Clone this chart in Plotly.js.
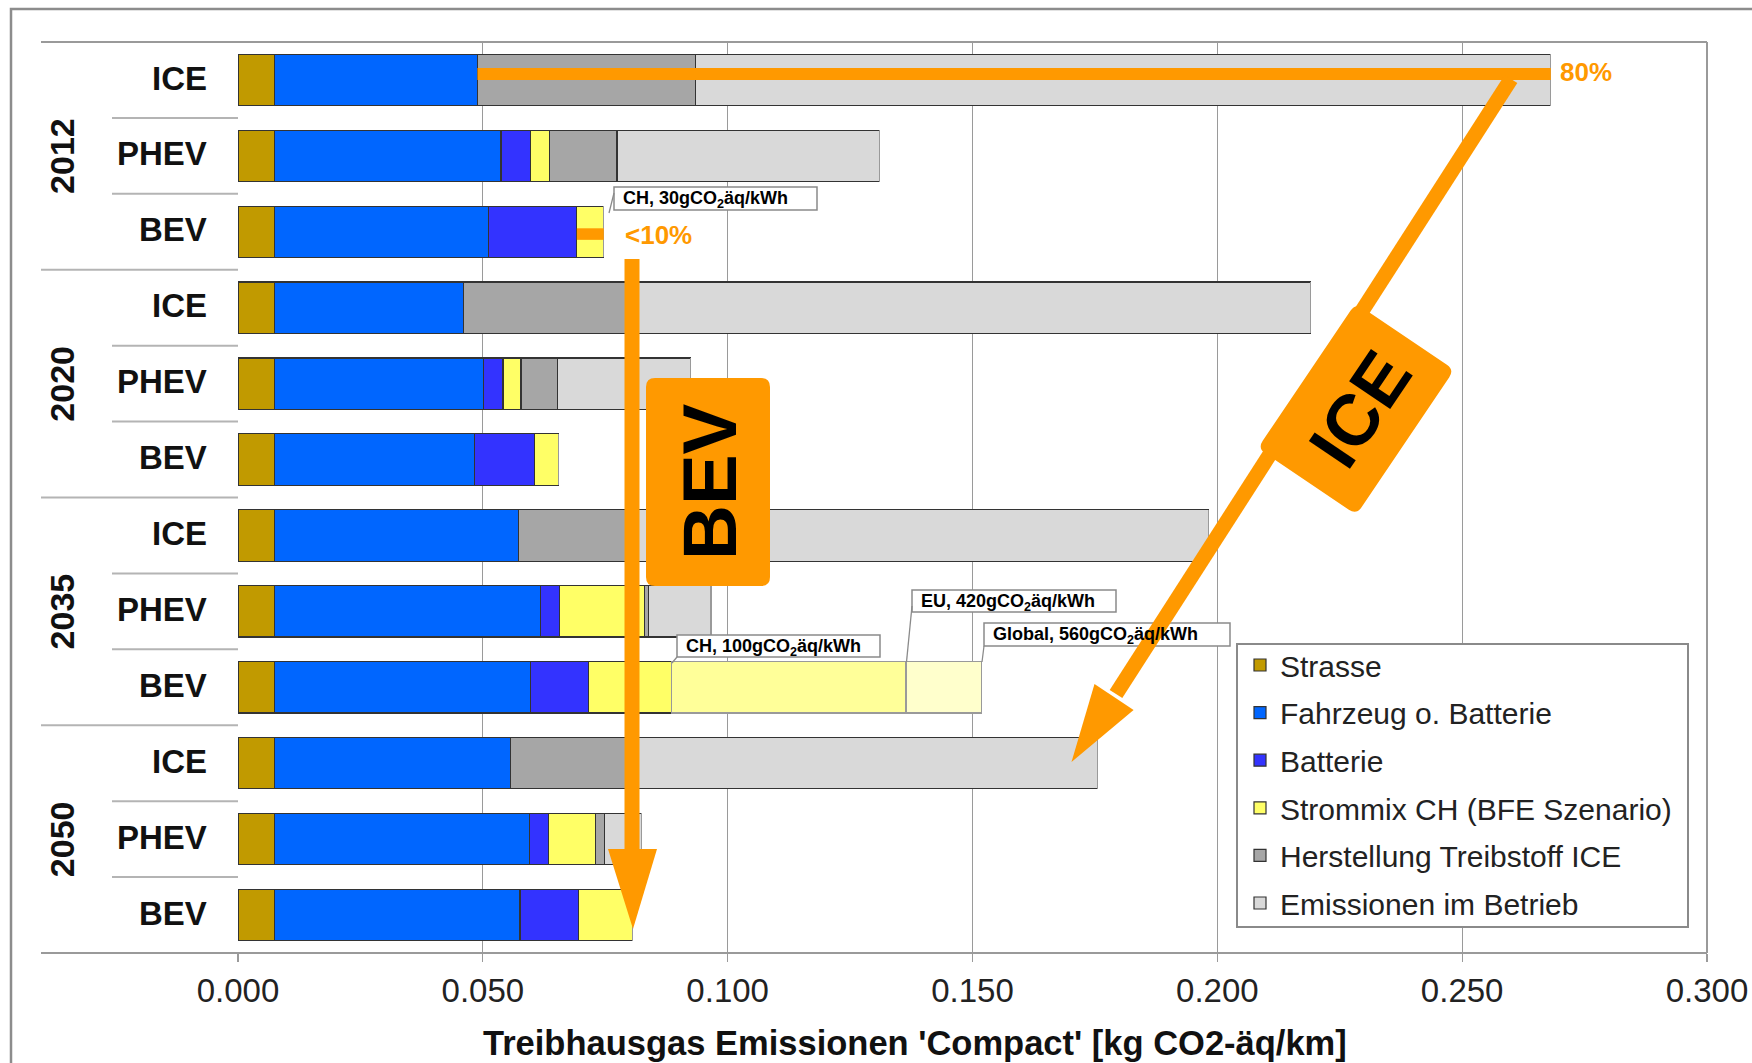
<!DOCTYPE html>
<html>
<head>
<meta charset="utf-8">
<script src="https://cdn.plot.ly/plotly-3.0.1.min.js"></script>
<style>html,body{margin:0;padding:0;background:#fff;}#chart{width:1752px;height:1063px;}</style>
</head>
<body>
<div id="chart"></div>
<script>
// ---------------- data ----------------
const years = ['2012', '2020', '2035', '2050'];
const types = ['ICE', 'PHEV', 'BEV'];
const seriesNames = ['Strasse', 'Fahrzeug o. Batterie', 'Batterie', 'Strommix CH (BFE Szenario)', 'Herstellung Treibstoff ICE', 'Emissionen im Betrieb'];
const seriesColors = ['#C19A00', '#0066FF', '#3333FF', '#FFFF66', '#A6A6A6', '#D9D9D9'];
// rows: 2012 ICE, PHEV, BEV, 2020 ICE, PHEV, BEV, 2035 ..., 2050 ...
const strasse     = [0.0075, 0.0075, 0.0075, 0.0075, 0.0075, 0.0075, 0.0075, 0.0075, 0.0075, 0.0075, 0.0075, 0.0075];
const fahrzeug    = [0.0414, 0.0462, 0.0436, 0.0386, 0.0427, 0.0408, 0.0498, 0.0543, 0.0522, 0.0481, 0.0520, 0.0501];
const batterie    = [0,      0.0061, 0.0181, 0,      0.0039, 0.0122, 0,      0.0039, 0.0119, 0,      0.0039, 0.0119];
const strommix    = [0,      0.0038, 0.0055, 0,      0.0037, 0.0049, 0,      0.0173, 0.0169, 0,      0.0096, 0.0110];
const herstellung = [0.0445, 0.0138, 0,      0.0339, 0.0075, 0,      0.0227, 0.0008, 0,      0.0244, 0.0018, 0];
const betrieb     = [0.1747, 0.0536, 0,      0.1391, 0.0271, 0,      0.1182, 0.0128, 0,      0.0956, 0.0076, 0];
// alternative electricity mixes for the 2035 BEV bar
const mixEU       = [0, 0, 0, 0, 0, 0, 0, 0, 0.0479, 0, 0, 0];
const mixGlobal   = [0, 0, 0, 0, 0, 0, 0, 0, 0.0155, 0, 0, 0];
const xTicks = [0, 0.05, 0.1, 0.15, 0.2, 0.25, 0.3];
const xTickText = ['0.000', '0.050', '0.100', '0.150', '0.200', '0.250', '0.300'];
const calloutTexts = ['CH, 30gCO<sub>2</sub>äq/kWh', 'CH, 100gCO<sub>2</sub>äq/kWh', 'EU, 420gCO<sub>2</sub>äq/kWh', 'Global, 560gCO<sub>2</sub>äq/kWh'];
const xTitle = "Treibhausgas Emissionen 'Compact' [kg CO2-äq/km]";

const rowKeys = [];
years.forEach(y => types.forEach(t => rowKeys.push(y + ' ' + t)));
const seriesValues = [strasse, fahrzeug, batterie, strommix, herstellung, betrieb];
const total = rowKeys.map((_, i) => seriesValues.reduce((s, a) => s + a[i], 0));

// ---------------- geometry helpers (pixel -> paper) ----------------
const L = 238, R = 1707, T = 42, B = 953;
const PX = px => (px - L) / (R - L);
const PY = py => (B - py) / (B - T);
const ORANGE = '#FF9900';
const FONT = 'Liberation Sans, Arial, sans-serif';

function poly(pts) {
  return 'M' + pts.map(p => PX(p[0]).toFixed(5) + ',' + PY(p[1]).toFixed(5)).join('L') + 'Z';
}
function rrect(cx, cy, w, h, ex, ey, r) {
  const dx = -ey, dy = ex;
  const P = (a, b) => [cx + a * ex + b * dx, cy + a * ey + b * dy];
  const hw = w / 2, hh = h / 2;
  const f = p => PX(p[0]).toFixed(5) + ',' + PY(p[1]).toFixed(5);
  let s = 'M' + f(P(-hw + r, -hh)) + 'L' + f(P(hw - r, -hh));
  s += 'Q' + f(P(hw, -hh)) + ' ' + f(P(hw, -hh + r));
  s += 'L' + f(P(hw, hh - r));
  s += 'Q' + f(P(hw, hh)) + ' ' + f(P(hw - r, hh));
  s += 'L' + f(P(-hw + r, hh));
  s += 'Q' + f(P(-hw, hh)) + ' ' + f(P(-hw, hh - r));
  s += 'L' + f(P(-hw, -hh + r));
  s += 'Q' + f(P(-hw, -hh)) + ' ' + f(P(-hw + r, -hh));
  return s + 'Z';
}

// ---------------- traces ----------------
const traces = seriesValues.map((vals, k) => ({
  type: 'bar', orientation: 'h', y: rowKeys, x: vals, name: seriesNames[k],
  legendgroup: seriesNames[k],
  marker: { color: seriesColors[k], line: { color: '#333333', width: 1.2 } },
  hovertemplate: '%{y}: %{x:.3f}<extra>' + seriesNames[k] + '</extra>'
}));
traces.push({ type: 'bar', orientation: 'h', y: rowKeys, x: mixEU, name: 'EU', showlegend: false,
  marker: { color: '#FFFF99', line: { color: '#9a9a9a', width: 1.2 } } });
traces.push({ type: 'bar', orientation: 'h', y: rowKeys, x: mixGlobal, name: 'Global', showlegend: false,
  marker: { color: '#FFFFCC', line: { color: '#9a9a9a', width: 1.2 } } });

// ---------------- shapes ----------------
const shapes = [];
const gray = '#9a9a9a';
// outer frame
shapes.push({ type: 'rect', xref: 'paper', yref: 'paper', x0: PX(11), x1: PX(1800), y0: PY(9), y1: PY(1100),
  line: { color: '#8c8c8c', width: 2.5 }, fillcolor: 'rgba(0,0,0,0)' });
// category dividers in the label area
for (let i = 1; i < rowKeys.length; i++) {
  const isGroup = i % types.length === 0;
  shapes.push({ type: 'line', xref: 'paper', yref: 'y', x0: PX(isGroup ? 41 : 112), x1: 0,
    y0: i - 0.5, y1: i - 0.5, line: { color: '#b4b4b4', width: 2 } });
}
// top / bottom lines (extend into label area) and right border
shapes.push({ type: 'line', xref: 'paper', yref: 'paper', x0: PX(41), x1: 1, y0: 1, y1: 1, line: { color: gray, width: 2 } });
shapes.push({ type: 'line', xref: 'paper', yref: 'paper', x0: PX(41), x1: 1, y0: 0, y1: 0, line: { color: gray, width: 2 } });
shapes.push({ type: 'line', xref: 'paper', yref: 'paper', x0: 1, x1: 1, y0: 0, y1: 1, line: { color: gray, width: 2 } });
// legend frame
shapes.push({ type: 'rect', xref: 'paper', yref: 'paper', x0: PX(1237), x1: PX(1688), y0: PY(927), y1: PY(644),
  line: { color: '#8a8a8a', width: 2 }, fillcolor: '#ffffff' });

// callout boxes + leader lines
const calloutBoxes = [[614, 187, 817, 210], [677, 635, 880, 657], [912, 590, 1116, 612], [984, 623, 1230, 646]];
const leaders = [[[614, 193], [609, 213]], [[677, 657], [672, 663]], [[912, 606], [906.5, 662]], [[984, 646], [982, 662]]];
calloutBoxes.forEach(b => shapes.push({ type: 'rect', xref: 'paper', yref: 'paper', x0: PX(b[0]), x1: PX(b[2]), y0: PY(b[3]), y1: PY(b[1]),
  line: { color: '#8a8a8a', width: 1.5 }, fillcolor: '#ffffff' }));
leaders.forEach(l => shapes.push({ type: 'line', xref: 'paper', yref: 'paper', x0: PX(l[0][0]), y0: PY(l[0][1]), x1: PX(l[1][0]), y1: PY(l[1][1]),
  line: { color: '#8a8a8a', width: 1.3 } }));

// ICE horizontal marker (from end of vehicle part to end of ICE 2012 bar)
const iceStart = strasse[0] + fahrzeug[0];
shapes.push({ type: 'line', xref: 'x', yref: 'y', x0: iceStart, x1: total[0], y0: -0.08, y1: -0.08,
  line: { color: ORANGE, width: 12 } });
// BEV 2012 small marker inside electricity segment
const bevStart = strasse[2] + fahrzeug[2] + batterie[2];
shapes.push({ type: 'rect', xref: 'x', yref: 'y', x0: bevStart, x1: total[2], y0: 2.03 - 0.076, y1: 2.03 + 0.076,
  line: { width: 0 }, fillcolor: ORANGE });

// BEV arrow
shapes.push({ type: 'line', xref: 'paper', yref: 'paper', x0: PX(632), x1: PX(632), y0: PY(259), y1: PY(853),
  line: { color: ORANGE, width: 15 } });
shapes.push({ type: 'path', xref: 'paper', yref: 'paper', path: poly([[608, 849], [657, 849], [633, 929]]),
  line: { width: 0 }, fillcolor: ORANGE });
shapes.push({ type: 'path', xref: 'paper', yref: 'paper', path: rrect(708, 482, 124, 208, 1, 0, 9),
  line: { width: 0 }, fillcolor: ORANGE });

// ICE arrow
shapes.push({ type: 'line', xref: 'paper', yref: 'paper', x0: PX(1511), y0: PY(79), x1: PX(1116), y1: PY(694),
  line: { color: ORANGE, width: 15 } });
shapes.push({ type: 'path', xref: 'paper', yref: 'paper', path: poly([[1094.5, 684], [1133.6, 710], [1071.5, 762]]),
  line: { width: 0 }, fillcolor: ORANGE });
shapes.push({ type: 'path', xref: 'paper', yref: 'paper', path: rrect(1356, 409, 119, 175, 0.829, 0.56, 9),
  line: { width: 0 }, fillcolor: ORANGE });

// ---------------- annotations ----------------
const annotations = [];
// type labels
rowKeys.forEach((k, i) => annotations.push({ xref: 'paper', yref: 'y', x: PX(209), y: i - 0.025, xanchor: 'right', yanchor: 'middle',
  text: types[i % types.length], showarrow: false, font: { family: FONT, size: 33, color: '#111', weight: 'bold' } }));
// year labels
years.forEach((y, g) => annotations.push({ xref: 'paper', yref: 'y', x: PX(62), y: g * types.length + 1, xanchor: 'center', yanchor: 'middle',
  text: y, textangle: -90, showarrow: false, font: { family: FONT, size: 34, color: '#111', weight: 'bold' } }));
// callout texts
calloutTexts.forEach((t, i) => {
  const b = calloutBoxes[i];
  annotations.push({ xref: 'paper', yref: 'paper', x: PX(b[0] + 7), y: PY((b[1] + b[3]) / 2 + 1), xanchor: 'left', yanchor: 'middle',
    text: t, showarrow: false, font: { family: FONT, size: 18, color: '#000', weight: 'bold' } });
});
// percentages
annotations.push({ xref: 'x', yref: 'y', x: total[0] + 0.0015, y: -0.1, xanchor: 'left', yanchor: 'middle',
  text: '80%', showarrow: false, font: { family: FONT, size: 26, color: ORANGE, weight: 'bold' } });
annotations.push({ xref: 'paper', yref: 'y', x: PX(623), y: 2.04, xanchor: 'left', yanchor: 'middle',
  text: '<10%', showarrow: false, font: { family: FONT, size: 26, color: ORANGE, weight: 'bold' } });
// big labels
annotations.push({ xref: 'paper', yref: 'paper', x: PX(710), y: PY(482), xanchor: 'center', yanchor: 'middle',
  text: 'BEV', textangle: -90, showarrow: false, font: { family: FONT, size: 76, color: '#000', weight: 'bold' } });
annotations.push({ xref: 'paper', yref: 'paper', x: PX(1360), y: PY(409), xanchor: 'center', yanchor: 'middle',
  text: 'ICE', textangle: -56, showarrow: false, font: { family: FONT, size: 72, color: '#000', weight: 'bold' } });
// x axis title
annotations.push({ xref: 'paper', yref: 'paper', x: PX(915), y: PY(1043), xanchor: 'center', yanchor: 'middle',
  text: xTitle, showarrow: false, font: { family: FONT, size: 34.5, color: '#111', weight: 'bold' } });

const layout = {
  width: 1752, height: 1063,
  margin: { l: L, r: 1752 - R, t: T, b: 1063 - B, pad: 0 },
  paper_bgcolor: '#ffffff', plot_bgcolor: '#ffffff',
  font: { family: FONT, color: '#222' },
  barmode: 'stack', bargap: 0.324,
  showlegend: true,
  xaxis: { range: [0, 0.3], tickvals: xTicks, ticktext: xTickText, showgrid: true, gridcolor: gray, gridwidth: 1.3,
    zeroline: false, showline: false, ticks: 'outside', ticklen: 8, tickcolor: gray, tickwidth: 1.3,
    tickfont: { family: FONT, size: 33, color: '#222' }, fixedrange: true },
  yaxis: { type: 'category', categoryarray: rowKeys, range: [rowKeys.length - 0.5, -0.5], showticklabels: false,
    showgrid: false, zeroline: false, ticks: '', showline: false, fixedrange: true },
  legend: { x: PX(1240), y: PY(639), xanchor: 'left', yanchor: 'top', bgcolor: 'rgba(0,0,0,0)', borderwidth: 0,
    font: { family: FONT, size: 30, color: '#222' }, traceorder: 'grouped', tracegroupgap: 5.6 },
  shapes: shapes,
  annotations: annotations
};

Plotly.newPlot('chart', traces, layout, { displayModeBar: false, staticPlot: true });
</script>
</body>
</html>
